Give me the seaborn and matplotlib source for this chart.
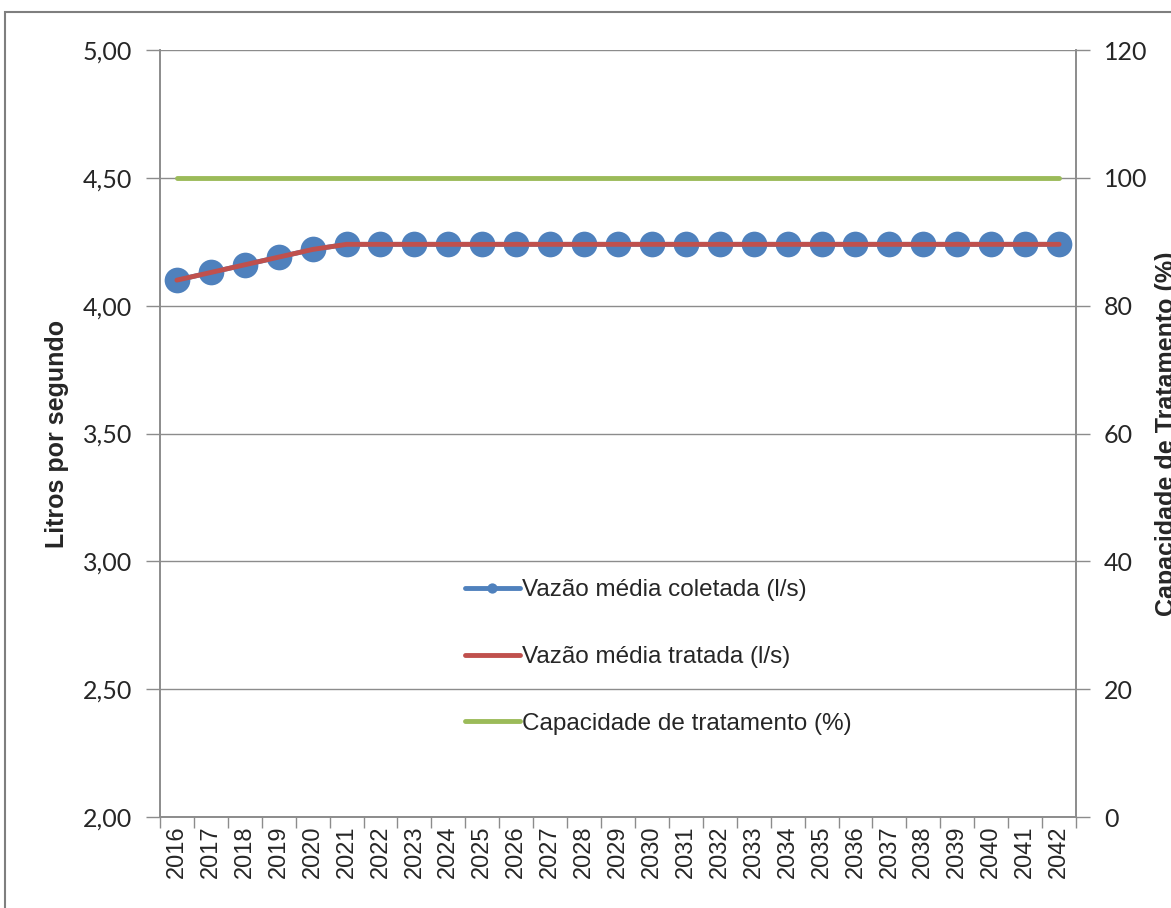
import matplotlib
matplotlib.use("Agg")
import matplotlib.pyplot as plt
from matplotlib.patches import Rectangle
from matplotlib.ticker import FuncFormatter, FixedLocator
import numpy as np
import pandas as pd
import seaborn as sns

years = list(range(2016, 2043))
vazao_coletada = [4.10, 4.13, 4.16, 4.19, 4.22, 4.24] + [4.24] * 21
vazao_tratada = [4.10, 4.13, 4.16, 4.19, 4.22, 4.24] + [4.24] * 21
capacidade = [100] * 27

BLUE = "#4F81BD"
RED = "#C0504D"
GREEN = "#9BBB59"
GRID = "#8C8C8C"

sns.set_theme(style="white")
plt.rcParams["font.family"] = ["Liberation Sans", "DejaVu Sans"]

df = pd.DataFrame({
    "ano": years,
    "coletada": vazao_coletada,
    "tratada": vazao_tratada,
    "capacidade": capacidade,
})

fig, ax = plt.subplots(figsize=(11.71, 9.08), dpi=100)
fig.subplots_adjust(left=0.1366, right=0.9189, top=0.9449, bottom=0.1002)

sns.lineplot(data=df, x="ano", y="coletada", ax=ax, color=BLUE, linewidth=3.5,
             marker="o", markersize=18.5, markeredgewidth=0,
             label="Vazão média coletada (l/s)", legend=False)
sns.lineplot(data=df, x="ano", y="tratada", ax=ax, color=RED, linewidth=3.5,
             label="Vazão média tratada (l/s)", legend=False)

ax2 = ax.twinx()
sns.lineplot(data=df, x="ano", y="capacidade", ax=ax2, color=GREEN, linewidth=3.5,
             label="Capacidade de tratamento (%)", legend=False)

ax.set_xlim(years[0] - 0.5, years[-1] + 0.5)
ax.set_ylim(2.0, 5.0)
ax.set_yticks(np.arange(2.0, 5.01, 0.5))
ax.yaxis.set_major_formatter(FuncFormatter(lambda v, p: f"{v:.2f}".replace(".", ",")))
ax.yaxis.grid(True, color=GRID, linewidth=1)
ax.set_axisbelow(True)

ax.set_xticks(years)
ax.set_xticklabels([str(y) for y in years], rotation=90, fontsize=17)
ax.xaxis.set_minor_locator(FixedLocator(np.arange(years[0] - 0.5, years[-1] + 0.6, 1)))
ax.tick_params(axis="x", which="major", length=0, pad=6)
ax.tick_params(axis="x", which="minor", length=8, color=GRID, width=1, bottom=True)
ax.tick_params(axis="y", length=10, color=GRID, width=1, pad=10, labelsize=18, left=True)
for t in ax.get_yticklabels():
    t.set_fontfamily("Lato")

ax2.set_ylim(0, 120)
ax2.set_yticks(range(0, 121, 20))
ax2.tick_params(axis="y", length=10, color=GRID, width=1, pad=10, labelsize=18, right=True)
for t in ax2.get_yticklabels():
    t.set_fontfamily("Lato")

for a in (ax, ax2):
    for side in ("left", "right", "bottom"):
        a.spines[side].set_color(GRID)
        a.spines[side].set_linewidth(1.2)
    a.spines["top"].set_visible(False)

ax.set_xlabel("")
ax.set_ylabel("Litros por segundo", fontsize=18, fontweight="bold")
ax.yaxis.set_label_coords(-0.099, 0.5)
# the reference cuts this label at the right edge of the picture
ax2.set_ylabel("Capacidade de Tratamento (%)", fontsize=18, fontweight="bold")
ax2.yaxis.set_label_coords(1.0862, 0.5)

h1, l1 = ax.get_legend_handles_labels()
h2, l2 = ax2.get_legend_handles_labels()
leg = ax2.legend(h1 + h2, l1 + l2, loc="center left", bbox_to_anchor=(0.309, 0.2086),
                 frameon=False, fontsize=17.5, handlelength=2.26, handletextpad=0.1,
                 labelspacing=1.84, markerscale=0.4)
for lh in leg.get_lines():
    lh.set_linewidth(3.5)

fig.patches.append(Rectangle((5 / 1171, -0.05), 1.1, 1 - 12 / 908 + 0.05,
                             transform=fig.transFigure, fill=False,
                             edgecolor="#7F7F7F", linewidth=1.5))

fig.savefig("out.png", dpi=100)
